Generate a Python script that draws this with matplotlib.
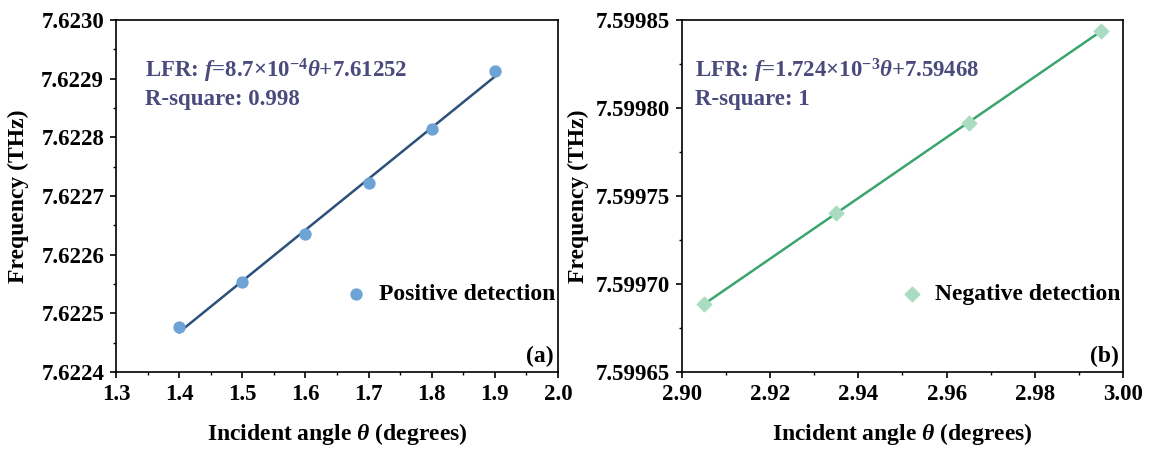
import numpy as np
import matplotlib
matplotlib.use("Agg")
import matplotlib.pyplot as plt
from matplotlib.ticker import MultipleLocator, FormatStrFormatter, AutoMinorLocator

plt.rcParams['font.family'] = ['Liberation Serif', 'DejaVu Serif']
plt.rcParams['font.weight'] = 'bold'
plt.rcParams['axes.labelweight'] = 'bold'
plt.rcParams['mathtext.fontset'] = 'custom'
plt.rcParams['mathtext.rm'] = 'Liberation Serif:bold'
plt.rcParams['mathtext.it'] = 'Liberation Serif:italic:bold'
plt.rcParams['mathtext.bf'] = 'Liberation Serif:bold'

# positive detection
angle_pos = [1.4, 1.5, 1.6, 1.7, 1.8, 1.9]
freq_pos = [7.622477, 7.622553, 7.622635, 7.622722, 7.622814, 7.622913]
# negative detection
angle_neg = [2.905, 2.935, 2.965, 2.995]
freq_neg = [7.5996886, 7.5997403, 7.5997915, 7.5998438]

fit_text_a = r"LFR: $\mathit{f}$=8.7×10$^{-4}$$\mathit{\theta}$+7.61252"
fit_text_b = r"LFR: $\mathit{f}$=1.724×10$^{-3}$$\mathit{\theta}$+7.59468"
rsq_a = "R-square: 0.998"
rsq_b = "R-square: 1"

text_col = '#4a4a7c'
TICK_FS = 16.5
LABEL_FS = 17
NOTE_FS = 16.5

fig = plt.figure(figsize=(11.5, 4.49), dpi=100)
ax1 = fig.add_axes([0.1009, 0.1715, 0.3843, 0.784])
ax2 = fig.add_axes([0.593, 0.1715, 0.3835, 0.784])


def style(ax, ypad):
    ax.tick_params(which='major', direction='out', length=4.5, width=1.2,
                   labelsize=TICK_FS, top=False, right=False, pad=4)
    ax.tick_params(which='minor', direction='out', length=2.5, width=1.0,
                   top=False, right=False)
    ax.xaxis.set_minor_locator(AutoMinorLocator(2))
    ax.yaxis.set_minor_locator(AutoMinorLocator(2))
    for s in ax.spines.values():
        s.set_linewidth(1.2)
    ax.set_xlabel(r"Incident angle $\mathit{\theta}$ (degrees)", fontsize=LABEL_FS, labelpad=12)
    ax.set_ylabel("Frequency (THz)", fontsize=LABEL_FS, labelpad=ypad)


def add_legend(ax):
    ax.legend(loc='center right', bbox_to_anchor=(1.0, 0.22), frameon=False,
              fontsize=LABEL_FS, handletextpad=0.4, handlelength=1.2,
              borderaxespad=0.0, borderpad=0.1)


# panel (a)
p = np.polyfit(angle_pos, freq_pos, 1)
xs = np.array([min(angle_pos), max(angle_pos)])
ax1.plot(xs, np.polyval(p, xs), color='#2c5179', lw=1.8, zorder=2)
ax1.scatter(angle_pos, freq_pos, s=62, color='#6ea3d6', zorder=3,
            label='Positive detection')
ax1.set_xlim(1.3, 2.0)
ax1.set_ylim(7.6224, 7.6230)
ax1.xaxis.set_major_locator(MultipleLocator(0.1))
ax1.yaxis.set_major_locator(MultipleLocator(0.0001))
ax1.xaxis.set_major_formatter(FormatStrFormatter('%.1f'))
ax1.yaxis.set_major_formatter(FormatStrFormatter('%.4f'))
style(ax1, 9)
ax1.text(0.066, 0.855, fit_text_a, transform=ax1.transAxes, fontsize=NOTE_FS,
         color=text_col, va='center')
ax1.text(0.066, 0.773, rsq_a, transform=ax1.transAxes, fontsize=NOTE_FS,
         color=text_col, va='center')
add_legend(ax1)
ax1.text(0.99, 0.045, "(a)", transform=ax1.transAxes, fontsize=LABEL_FS,
         ha='right', va='center')

# panel (b)
q = np.polyfit(angle_neg, freq_neg, 1)
xs = np.array([min(angle_neg), max(angle_neg)])
ax2.plot(xs, np.polyval(q, xs), color='#3aa56f', lw=1.8, zorder=2)
ax2.scatter(angle_neg, freq_neg, s=55, marker='D', color='#a9dcc1', zorder=3,
            label='Negative detection')
ax2.set_xlim(2.90, 3.00)
ax2.set_ylim(7.59965, 7.59985)
ax2.xaxis.set_major_locator(MultipleLocator(0.02))
ax2.yaxis.set_major_locator(MultipleLocator(0.00005))
ax2.xaxis.set_major_formatter(FormatStrFormatter('%.2f'))
ax2.yaxis.set_major_formatter(FormatStrFormatter('%.5f'))
style(ax2, 5)
ax2.text(0.03, 0.855, fit_text_b, transform=ax2.transAxes, fontsize=NOTE_FS,
         color=text_col, va='center')
ax2.text(0.03, 0.773, rsq_b, transform=ax2.transAxes, fontsize=NOTE_FS,
         color=text_col, va='center')
add_legend(ax2)
ax2.text(0.99, 0.045, "(b)", transform=ax2.transAxes, fontsize=LABEL_FS,
         ha='right', va='center')

fig.savefig('out.png', dpi=100)
